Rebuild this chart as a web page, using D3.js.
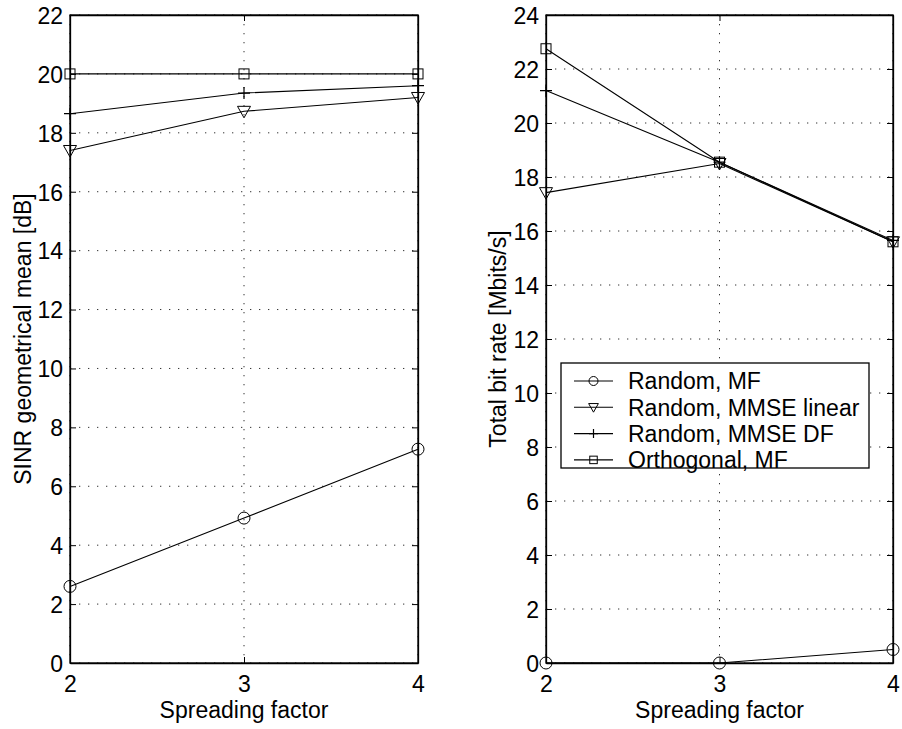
<!DOCTYPE html>
<html>
<head>
<meta charset="utf-8">
<script src="https://cdn.jsdelivr.net/npm/d3@7"></script>
<style>
  body { margin: 0; background: #fff; }
  svg { font-family: "Liberation Sans", Arial, Helvetica, sans-serif; }
  .tick text { font-size: 23px; fill: #000; }
  .label { font-size: 23px; fill: #000; }
  .grid line { stroke: #333; stroke-dasharray: 1.3,7.7; stroke-width: 1; }
</style>
</head>
<body>
<svg id="chart" width="902" height="729"></svg>
<script>
// spreading factor values
var spreading = [2, 3, 4];
var seriesNames = ["Random, MF", "Random, MMSE linear", "Random, MMSE DF", "Orthogonal, MF"];
var seriesMarkers = ["circle", "triangle", "plus", "square"];

// left panel: SINR geometrical mean [dB]
var sinrMF = [2.6, 4.92, 7.26];
var sinrMMSE = [17.4, 18.73, 19.2];
var sinrDF = [18.65, 19.35, 19.6];
var sinrOrth = [20, 20, 20];
var sinrTicks = [0, 2, 4, 6, 8, 10, 12, 14, 16, 18, 20, 22];

// right panel: total bit rate [Mbits/s]
var rateMF = [0, 0, 0.5];
var rateMMSE = [17.42, 18.5, 15.6];
var rateDF = [21.2, 18.55, 15.65];
var rateOrth = [22.75, 18.55, 15.6];
var rateTicks = [0, 2, 4, 6, 8, 10, 12, 14, 16, 18, 20, 22, 24];

var svg = d3.select("#chart");
var top_y = 15, bottom_y = 663;
var plot_height = bottom_y - top_y;

function drawMarker(g, type, cx, cy, s) {
  if (type == "circle") {
    g.append("circle").attr("cx", cx).attr("cy", cy).attr("r", 6 * s)
      .attr("fill", "none").attr("stroke", "#000");
  } else if (type == "triangle") {
    g.append("path")
      .attr("d", "M" + (cx - 6.5 * s) + "," + (cy - 5 * s) + "L" + (cx + 6.5 * s) + "," + (cy - 5 * s) + "L" + cx + "," + (cy + 6.5 * s) + "Z")
      .attr("fill", "none").attr("stroke", "#000");
  } else if (type == "plus") {
    g.append("path")
      .attr("d", "M" + (cx - 6 * s) + "," + cy + "H" + (cx + 6 * s) + "M" + cx + "," + (cy - 6 * s) + "V" + (cy + 6 * s))
      .attr("fill", "none").attr("stroke", "#000").attr("stroke-width", 1.2);
  } else {
    g.append("rect").attr("x", cx - 5 * s).attr("y", cy - 5 * s)
      .attr("width", 10 * s).attr("height", 10 * s)
      .attr("fill", "none").attr("stroke", "#000");
  }
}

function drawPanel(left, right, ymax, yticks, series, ylabel, labelX) {
  var width = right - left;
  var x = d3.scaleLinear().domain([2, 4]).range([0, width]);
  var y = d3.scaleLinear().domain([0, ymax]).range([plot_height, 0]);

  var g = svg.append("g").attr("transform", "translate(" + left + "," + top_y + ")");

  // grid
  var grid = g.append("g").attr("class", "grid");
  grid.selectAll(".gy").data(yticks).enter().append("line")
    .attr("x1", 0).attr("x2", width)
    .attr("y1", function(d) { return y(d); }).attr("y2", function(d) { return y(d); });
  grid.selectAll(".gx").data(spreading).enter().append("line")
    .attr("y1", 0).attr("y2", plot_height)
    .attr("x1", function(d) { return x(d); }).attr("x2", function(d) { return x(d); });

  // axes with inward ticks on all four sides
  g.append("g").attr("class", "yaxis")
    .call(d3.axisLeft(y).tickValues(yticks).tickSizeInner(-6).tickSizeOuter(0).tickPadding(7))
    .selectAll(".tick text").attr("dy", "0.36em");
  g.append("g").attr("transform", "translate(" + width + ",0)")
    .call(d3.axisRight(y).tickValues(yticks).tickSizeInner(-6).tickSizeOuter(0).tickFormat(""));
  g.append("g").attr("class", "xaxis").attr("transform", "translate(0," + plot_height + ")")
    .call(d3.axisBottom(x).tickValues(spreading).tickSizeInner(-6).tickSizeOuter(0).tickPadding(13).tickFormat(d3.format("d")));
  g.append("g")
    .call(d3.axisTop(x).tickValues(spreading).tickSizeInner(-6).tickSizeOuter(0).tickFormat(""));
  g.selectAll(".domain").attr("stroke", "#000").attr("stroke-width", 1.3);
  g.selectAll(".tick line").attr("stroke", "#000");

  g.append("rect").attr("width", width).attr("height", plot_height)
    .attr("fill", "none").attr("stroke", "#000").attr("stroke-width", 1.3);

  // lines and markers
  var line = d3.line()
    .x(function(d, i) { return x(spreading[i]); })
    .y(function(d) { return y(d); });

  series.forEach(function(vals, k) {
    g.append("path").datum(vals).attr("d", line)
      .attr("fill", "none").attr("stroke", "#000").attr("stroke-width", 1.1);
    vals.forEach(function(v, i) {
      drawMarker(g, seriesMarkers[k], x(spreading[i]), y(v), 1);
    });
  });

  // labels
  g.append("text").attr("class", "label")
    .attr("x", width / 2).attr("y", plot_height + 55)
    .style("text-anchor", "middle")
    .text("Spreading factor");
  g.append("text").attr("class", "label")
    .attr("transform", "translate(" + (labelX - left) + "," + (plot_height / 2) + ") rotate(-90)")
    .style("text-anchor", "middle")
    .text(ylabel);

  return g;
}

drawPanel(70, 418, 22, sinrTicks, [sinrMF, sinrMMSE, sinrDF, sinrOrth], "SINR geometrical mean [dB]", 31);
var right_g = drawPanel(546, 893, 24, rateTicks, [rateMF, rateMMSE, rateDF, rateOrth], "Total bit rate [Mbits/s]", 506);

// legend on right panel
var legend = svg.append("g").attr("transform", "translate(561,363)");
legend.append("rect").attr("width", 308).attr("height", 105)
  .attr("fill", "#fff").attr("stroke", "#000").attr("stroke-width", 1.3);
seriesNames.forEach(function(name, k) {
  var cy = 18 + k * 26.3;
  legend.append("line").attr("x1", 13).attr("x2", 52).attr("y1", cy).attr("y2", cy)
    .attr("stroke", "#000").attr("stroke-width", 1.1);
  drawMarker(legend, seriesMarkers[k], 32.5, cy, 0.75);
  legend.append("text").attr("class", "label")
    .attr("x", 67).attr("y", cy).attr("dy", "0.36em")
    .text(name);
});
</script>
</body>
</html>
